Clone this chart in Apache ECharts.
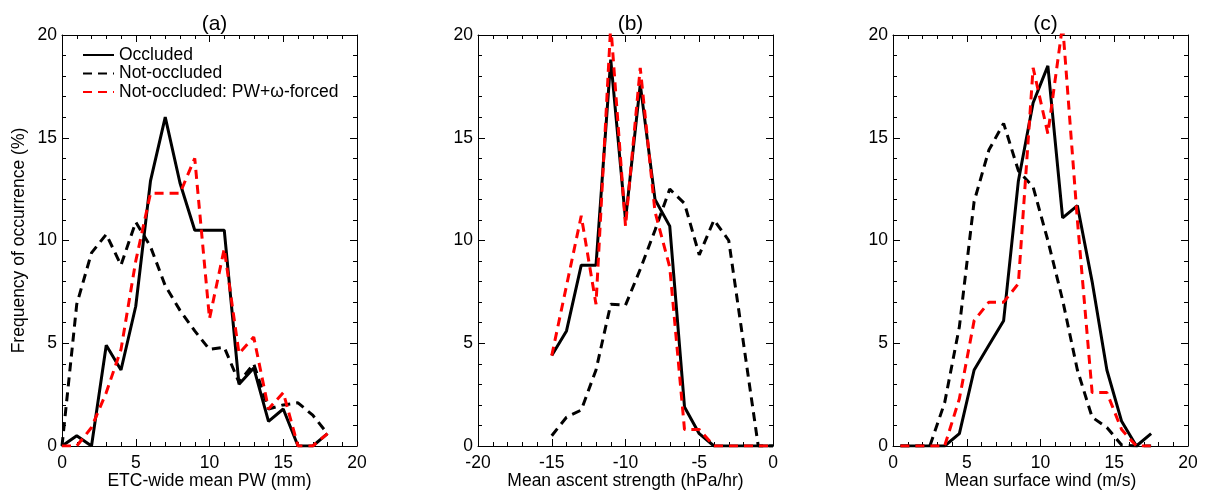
<!DOCTYPE html>
<html><head><meta charset="utf-8">
<script src="https://cdn.jsdelivr.net/npm/echarts@6/dist/echarts.min.js"></script>
<style>html,body{margin:0;padding:0;background:#fff}#c{width:1206px;height:494px}</style>
</head><body><div id="c"></div>
<script>
// ---- data ----
const seriesNames = ['Occluded', 'Not-occluded', 'Not-occluded: PW+\u03c9-forced'];
const panelTitles = ['(a)', '(b)', '(c)'];
const axisNames = ['ETC-wide mean PW (mm)', 'Mean ascent strength (hPa/hr)', 'Mean surface wind (m/s)'];
const yAxisName = 'Frequency of occurrence (%)';

// panel (a)
const xA = [0,1,2,3,4,5,6,7,8,9,10,11,12,13,14,15,16,17,18];
const occA = [0,0.5,0,4.9,3.7,6.8,12.9,16.0,12.8,10.5,10.5,10.5,3.0,3.8,1.2,1.8,0,0,0.6];
const notA = [0,6.9,9.4,10.3,8.8,10.9,9.7,7.8,6.6,5.6,4.7,4.8,3.1,4.0,1.8,2.0,2.1,1.5,0.6];
const pwA  = [0,0,0.9,2.6,4.7,9.0,12.3,12.3,12.3,14.0,6.2,9.6,4.5,5.3,1.8,2.6,0,0,0.6];

// panel (b)
const xB = [-15,-14,-13,-12,-11,-10,-9,-8,-7,-6,-5,-4,-3,-2,-1,0];
const occB = [4.4,5.6,8.8,8.8,18.8,11.0,17.6,12.0,10.7,1.9,0.6,0,0,0,0,0];
const notB = [0.5,1.4,1.75,3.7,6.9,6.85,8.6,10.5,12.5,11.8,9.3,11.0,10.0,5.0,0,0];
const pwB  = [4.4,7.8,11.2,6.9,20.5,10.7,18.4,11.4,8.7,0.8,0.8,0,0,0,0,0];

// panel (c)
const xC = [0.5,1.5,2.5,3.5,4.5,5.5,6.5,7.5,8.5,9.5,10.5,11.5,12.5,13.5,14.5,15.5,16.5,17.5];
const occC = [0,0,0,0,0.6,3.7,4.9,6.1,12.9,16.7,18.5,11.1,11.7,8.0,3.7,1.2,0,0.6];
const notC = [0,0,0,2.1,5.8,11.9,14.4,15.7,13.4,12.6,10.0,7.1,3.7,1.4,0.9,0.05,0,0];
const pwC  = [0,0,0,0,2.3,6.1,7.0,7.0,7.9,18.4,15.2,20.5,11.0,2.6,2.6,0.8,0,0];

const xRanges = [[0,20],[-20,0],[0,20]];
const panels = [
  {x: xA, s: [occA, notA, pwA]},
  {x: xB, s: [occB, notB, pwB]},
  {x: xC, s: [occC, notC, pwC]}
];

// ---- layout / style ----
const FONT = '"Liberation Sans", Arial, Helvetica, sans-serif';
const FS = 17.5;
const gridLefts = [62, 478, 893];
const GW = 295, GT = 35, GH = 411;
const lineStyles = [
  {color: '#000', width: 3, type: 'solid'},
  {color: '#000', width: 3, type: [9, 6]},
  {color: '#ff0000', width: 3, type: [9, 6]}
];

const grid = [], xAxis = [], yAxis = [], series = [], title = [];
function baseAxis() {
  return {
    axisLine: {show: true, onZero: false, lineStyle: {color: '#000', width: 1}},
    axisTick: {show: true, inside: true, length: 7, lineStyle: {color: '#000', width: 1}},
    minorTick: {show: true, splitNumber: 5, length: 4, lineStyle: {color: '#000', width: 1}},
    splitLine: {show: false},
    minorSplitLine: {show: false},
    axisLabel: {color: '#000', fontSize: FS, fontFamily: FONT},
    interval: 5
  };
}
panels.forEach((p, i) => {
  grid.push({left: gridLefts[i], top: GT, width: GW, height: GH, containLabel: false, outerBoundsMode: 'none'});
  title.push({text: panelTitles[i], left: gridLefts[i] + GW / 2, top: 9, textAlign: 'center',
    textStyle: {fontSize: 21, fontWeight: 'normal', color: '#000', fontFamily: FONT}});
  const xb = Object.assign(baseAxis(), {
    type: 'value', gridIndex: i, position: 'bottom', min: xRanges[i][0], max: xRanges[i][1],
    name: axisNames[i], nameLocation: 'middle', nameGap: 26, nameMoveOverlap: false,
    nameTextStyle: {fontSize: FS, color: '#000', fontFamily: FONT}
  });
  xb.axisLabel.margin = 8;
  const xt = Object.assign(baseAxis(), {type: 'value', gridIndex: i, position: 'top', min: xRanges[i][0], max: xRanges[i][1]});
  xt.axisLabel = {show: false};
  xAxis.push(xb, xt);
  const yl = Object.assign(baseAxis(), {type: 'value', gridIndex: i, position: 'left', min: 0, max: 20});
  yl.axisLabel.margin = 5;
  if (i === 0) {
    yl.name = yAxisName; yl.nameLocation = 'middle'; yl.nameGap = 34; yl.nameMoveOverlap = false;
    yl.nameTextStyle = {fontSize: FS, color: '#000', fontFamily: FONT};
  }
  const yr = Object.assign(baseAxis(), {type: 'value', gridIndex: i, position: 'right', min: 0, max: 20});
  yr.axisLabel = {show: false};
  yAxis.push(yl, yr);
  p.s.forEach((vals, k) => {
    series.push({
      type: 'line', name: seriesNames[k], xAxisIndex: 2 * i, yAxisIndex: 2 * i,
      data: p.x.map((xv, j) => [xv, vals[j]]),
      symbol: 'none', clip: true, lineStyle: lineStyles[k], itemStyle: {color: lineStyles[k].color},
      z: 2 + k, animation: false
    });
  });
});

const chart = echarts.init(document.getElementById('c'), null, {renderer: 'canvas'});
chart.setOption({
  animation: false,
  backgroundColor: '#fff',
  title: title,
  legend: {
    data: seriesNames, orient: 'vertical', left: 82, top: 46, padding: 0,
    itemWidth: 31, itemHeight: 12, itemGap: 0.5,
    itemStyle: {color: 'rgba(0,0,0,0)', borderColor: 'rgba(0,0,0,0)', borderWidth: 0},
    textStyle: {fontSize: FS, color: '#000', fontFamily: FONT},
    selectedMode: false
  },
  grid: grid, xAxis: xAxis, yAxis: yAxis, series: series
});
</script>
</body></html>
